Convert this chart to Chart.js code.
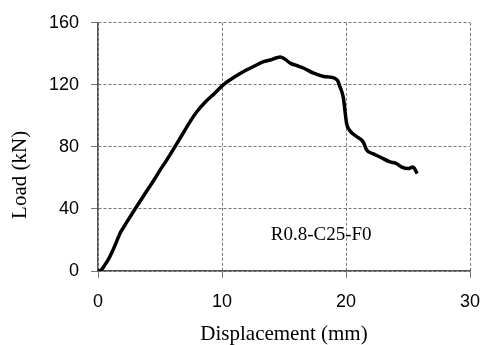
<!DOCTYPE html>
<html>
<head>
<meta charset="utf-8">
<script src="https://cdn.jsdelivr.net/npm/chart.js@4/dist/chart.umd.min.js"></script>
<style>
html,body{margin:0;padding:0;background:#fff;}
#wrap{width:482px;height:345px;position:relative;}
</style>
</head>
<body>
<div id="wrap"><canvas id="c" width="482" height="345"></canvas></div>
<script>
const displacement = [0, 0.3, 0.56, 0.8, 1.1, 1.45, 1.78, 2.05, 2.32, 2.99, 3.8, 4.5, 5.0, 5.5, 6.2, 6.8, 7.4, 8.0, 8.6, 9.3, 10.1, 11.0, 12.0, 12.7, 13.35, 13.9, 14.4, 14.7, 15.0, 15.5, 16.0, 16.6, 17.4, 18.2, 18.7, 19.3, 19.5, 19.78, 19.95, 20.05, 20.3, 20.8, 21.4, 21.67, 22.2, 22.74, 23.55, 24.0, 24.5, 25.0, 25.4, 25.75];
const load = [0, 1, 4, 7, 11.6, 18, 24.4, 28, 31.5, 40, 50, 58.5, 65, 71, 80, 88, 96, 103, 108.5, 113.7, 120, 125, 129.7, 132.5, 135, 136, 137.5, 138, 137, 134, 132.5, 130.7, 127.5, 125.4, 125, 123, 119, 111.9, 101, 95, 90.6, 87, 83, 78, 75.5, 73.5, 70.3, 69.5, 67, 66, 67, 62.8];
const xTicks = [0, 10, 20, 30];
const yTicks = [0, 40, 80, 120, 160];
const specimenLabel = 'R0.8-C25-F0';
const xTitle = 'Displacement (mm)';
const yTitle = 'Load (kN)';

const points = displacement.map((d, i) => ({x: d, y: load[i]}));

const overlay = {
  id: 'overlay',
  afterDraw(chart) {
    const ctx = chart.ctx;
    const xs = chart.scales.x, ys = chart.scales.y;
    const ca = chart.chartArea;
    ctx.save();
    ctx.fillStyle = '#000';
    ctx.font = '19px "Liberation Serif", "Times New Roman", serif';
    ctx.textAlign = 'center';
    ctx.textBaseline = 'middle';
    ctx.fillText(specimenLabel, xs.getPixelForValue(18), ys.getPixelForValue(23));
    // y axis title
    ctx.translate(20, (ca.top + ca.bottom) / 2 + 28);
    ctx.rotate(-Math.PI / 2);
    ctx.font = '21px "Liberation Serif", "Times New Roman", serif';
    ctx.fillText(yTitle, 0, 0);
    ctx.restore();
  }
};

new Chart(document.getElementById('c'), {
  type: 'scatter',
  data: {
    datasets: [{
      data: points,
      showLine: true,
      borderColor: '#000',
      borderWidth: 3.5,
      pointRadius: 0,
      cubicInterpolationMode: 'monotone',
      fill: false
    }]
  },
  options: {
    responsive: false,
    animation: false,
    devicePixelRatio: 1,
    layout: {padding: {top: 21, right: 0, left: 0, bottom: 0}},
    plugins: {legend: {display: false}, tooltip: {enabled: false}},
    scales: {
      x: {
        type: 'linear',
        min: 0, max: 30,
        afterBuildTicks: s => { s.ticks = xTicks.map(v => ({value: v})); },
        afterFit: s => { s.height = 74; s.paddingRight = 12; s.paddingLeft = 0; },
        ticks: {color: '#000', font: {family: '"Liberation Sans", Arial, sans-serif', size: 18}, padding: 13, maxRotation: 0},
        grid: {color: '#777', lineWidth: 1, tickLength: 7, drawTicks: true},
        border: {color: '#555', width: 1.5, dash: [3, 2]},
        title: {display: true, text: xTitle, color: '#000', font: {family: '"Liberation Serif", "Times New Roman", serif', size: 21, lineHeight: 1}, padding: {top: 0, bottom: 0}}
      },
      y: {
        type: 'linear',
        min: 0, max: 160,
        afterBuildTicks: s => { s.ticks = yTicks.map(v => ({value: v})); },
        afterFit: s => { s.width = 98; },
        ticks: {color: '#000', font: {family: '"Liberation Sans", Arial, sans-serif', size: 18}, padding: 12},
        grid: {color: '#777', lineWidth: 1, tickLength: 7, drawTicks: true},
        border: {color: '#555', width: 1.5, dash: [3, 2]}
      }
    }
  },
  plugins: [overlay]
});
</script>
</body>
</html>
